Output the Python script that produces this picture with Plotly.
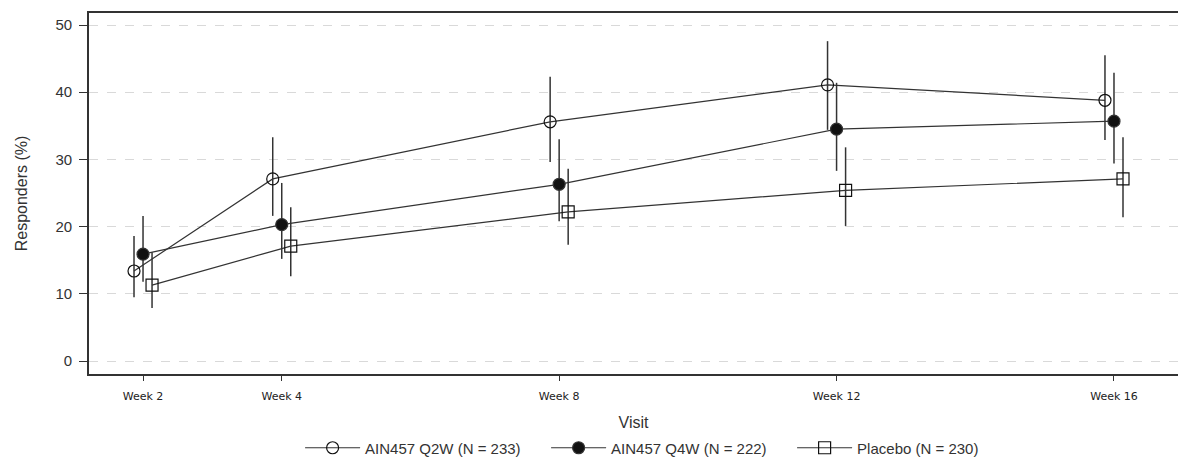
import plotly.graph_objects as go

weeks = [2, 4, 8, 12, 16]
tick_labels = ["Week 2", "Week 4", "Week 8", "Week 12", "Week 16"]

series_names = ["AIN457 Q2W (N = 233)", "AIN457 Q4W (N = 222)", "Placebo (N = 230)"]
q2w = [13.4, 27.1, 35.6, 41.1, 38.8]
q2w_hi = [18.6, 33.3, 42.3, 47.6, 45.5]
q2w_lo = [9.5, 21.6, 29.6, 34.4, 32.9]
q4w = [15.9, 20.3, 26.3, 34.5, 35.7]
q4w_hi = [21.6, 26.5, 33.0, 41.4, 42.9]
q4w_lo = [11.8, 15.2, 20.8, 28.3, 29.4]
pbo = [11.3, 17.1, 22.2, 25.4, 27.1]
pbo_hi = [16.2, 22.9, 28.6, 31.8, 33.3]
pbo_lo = [7.9, 12.6, 17.3, 20.1, 21.4]

offsets = [-0.13, 0.0, 0.13]
symbols = ["circle-open", "circle", "square-open"]
values = [q2w, q4w, pbo]
his = [q2w_hi, q4w_hi, pbo_hi]
los = [q2w_lo, q4w_lo, pbo_lo]

fig = go.Figure()
for name, off, sym, v, hi, lo in zip(series_names, offsets, symbols, values, his, los):
    xs = [w + off for w in weeks]
    fig.add_trace(go.Scatter(
        x=xs, y=v, name=name, mode="lines+markers",
        line=dict(color="#333333", width=1.2),
        marker=dict(symbol=sym, size=12, color="#111111",
                    line=dict(color="#333333", width=1.2)),
        error_y=dict(type="data", symmetric=False,
                     array=[h - m for h, m in zip(hi, v)],
                     arrayminus=[m - l for m, l in zip(v, lo)],
                     color="#333333", thickness=1.5, width=0),
    ))

font_family = "Liberation Sans, Arial, sans-serif"
fig.update_layout(
    width=1178, height=459,
    margin=dict(l=89, r=0, t=13, b=85, autoexpand=False),
    paper_bgcolor="white", plot_bgcolor="white",
    font=dict(family=font_family, color="#333333"),
    showlegend=True,
    legend=dict(orientation="h", xref="container", yref="container",
                x=0.568, xanchor="center", y=0.024, yanchor="middle",
                font=dict(size=15, color="#333333"),
                itemwidth=55, entrywidth=176, entrywidthmode="pixels",
                traceorder="normal"),
    xaxis=dict(
        range=[1.221, 16.923], tickmode="array", tickvals=weeks, ticktext=tick_labels,
        ticks="outside", ticklen=5, tickcolor="#333333", ticklabelstandoff=6,
        tickfont=dict(size=11, color="#222222", family="DejaVu Sans"),
        showgrid=False, zeroline=False, automargin=False,
        showline=True, linecolor="#333333", linewidth=1.8, mirror=True,
        title=dict(text="Visit", font=dict(size=16, color="#333333"), standoff=18),
    ),
    yaxis=dict(
        range=[-1.93, 51.79], tickvals=[0, 10, 20, 30, 40, 50],
        ticks="outside", ticklen=8, tickcolor="#333333", ticklabelstandoff=4,
        tickfont=dict(size=15, color="#333333"),
        showgrid=True, gridcolor="#d9d9d9", griddash="dash", gridwidth=1,
        zeroline=False, automargin=False,
        showline=True, linecolor="#333333", linewidth=1.8, mirror=True,
        title=dict(text="Responders (%)", font=dict(size=16, color="#333333"), standoff=24),
    ),
)

fig.write_html(
    "out.html",
    config={"displayModeBar": False},
    post_script="document.body.style.margin='0';document.body.style.overflow='hidden';",
)
